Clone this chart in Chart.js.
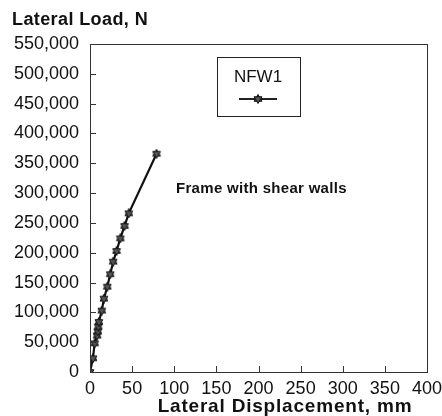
<!DOCTYPE html>
<html>
<head>
<meta charset="utf-8">
<script src="https://cdn.jsdelivr.net/npm/chart.js@4"></script>
<style>
  html, body { margin: 0; padding: 0; background: #fff; }
  #wrap { width: 442px; height: 416px; }
</style>
</head>
<body>
<div id="wrap"><canvas id="loadChart"></canvas></div>
<script>
// displacement (mm) and lateral load (N) for NFW1
const displacement = [0, 3.5, 5.5, 8.5, 9.2, 9.8, 10.5, 14, 16.5, 20.5, 24, 27.5, 31.5, 36, 41, 46, 79];
const load = [0, 23000, 48000, 61000, 68000, 76000, 84000, 103000, 123000, 143000, 164000, 185000, 203000, 224000, 245000, 266000, 366000];
const seriesName = 'NFW1';
const xTicks = [0, 50, 100, 150, 200, 250, 300, 350, 400];
const yTicks = [0, 50000, 100000, 150000, 200000, 250000, 300000, 350000, 400000, 450000, 500000, 550000];
const yTitle = 'Lateral Load, N';
const xTitle = 'Lateral Displacement, mm';
const note = 'Frame with shear walls';

const FONT = 'Arial, "Liberation Sans", sans-serif';

// six pointed star marker
function makeStar(size) {
  const c = document.createElement('canvas');
  c.width = size; c.height = size;
  const g = c.getContext('2d');
  const cx = size / 2, cy = size / 2, r = size / 2 - 0.5;
  g.fillStyle = '#555';
  g.strokeStyle = '#111';
  g.lineWidth = 1;
  for (let k = 0; k < 2; k++) {
    g.beginPath();
    for (let i = 0; i < 3; i++) {
      const a = -Math.PI / 2 + k * Math.PI + i * 2 * Math.PI / 3;
      const px = cx + r * Math.cos(a), py = cy + r * Math.sin(a);
      if (i === 0) g.moveTo(px, py); else g.lineTo(px, py);
    }
    g.closePath();
    g.fill();
    g.stroke();
  }
  return c;
}
const star = makeStar(10);

const extras = {
  id: 'extras',
  afterDraw(chart) {
    const ctx = chart.ctx;
    const a = chart.chartArea;
    const xs = chart.scales.x, ys = chart.scales.y;
    ctx.save();
    // frame
    ctx.strokeStyle = '#333';
    ctx.lineWidth = 1;
    ctx.strokeRect(a.left + 0.5, a.top + 0.5, a.right - a.left, a.bottom - a.top);
    // inward ticks
    ctx.beginPath();
    xTicks.forEach(v => {
      const p = Math.round(xs.getPixelForValue(v)) + 0.5;
      ctx.moveTo(p, a.bottom);
      ctx.lineTo(p, a.bottom - 6);
    });
    yTicks.forEach(v => {
      const p = Math.round(ys.getPixelForValue(v)) + 0.5;
      ctx.moveTo(a.left, p);
      ctx.lineTo(a.left + 6, p);
    });
    ctx.stroke();
    // titles
    ctx.fillStyle = '#111';
    ctx.textBaseline = 'middle';
    ctx.font = 'bold 18px ' + FONT;
    ctx.letterSpacing = '0.4px';
    ctx.textAlign = 'left';
    ctx.fillText(yTitle, 12, 20);
    ctx.font = 'bold 19px ' + FONT;
    ctx.letterSpacing = '0.8px';
    ctx.textAlign = 'center';
    ctx.fillText(xTitle, 285, 407);
    ctx.font = 'bold 15px ' + FONT;
    ctx.letterSpacing = '0.3px';
    ctx.textAlign = 'left';
    ctx.fillText(note, 176, 189);
    ctx.letterSpacing = '0px';
    // legend box
    ctx.strokeStyle = '#222';
    ctx.strokeRect(217.5, 57.5, 83, 59);
    ctx.font = '17px ' + FONT;
    ctx.textAlign = 'center';
    ctx.fillText(seriesName, 258, 77);
    ctx.beginPath();
    ctx.lineWidth = 2;
    ctx.moveTo(239, 99);
    ctx.lineTo(277, 99);
    ctx.stroke();
    ctx.drawImage(star, 253, 94);
    ctx.restore();
  }
};

new Chart(document.getElementById('loadChart'), {
  type: 'line',
  data: {
    datasets: [{
      label: seriesName,
      data: displacement.map((x, i) => ({ x: x, y: load[i] })),
      borderColor: '#111',
      borderWidth: 2.2,
      pointStyle: star,
      pointRadius: 5,
      tension: 0
    }]
  },
  options: {
    responsive: true,
    maintainAspectRatio: false,
    animation: false,
    layout: { padding: { top: 44, right: 15, left: 0, bottom: 0 } },
    plugins: {
      legend: { display: false },
      tooltip: { enabled: false }
    },
    scales: {
      x: {
        type: 'linear',
        min: 0,
        max: 400,
        afterBuildTicks: s => { s.ticks = xTicks.map(v => ({ value: v })); },
        afterFit: s => { s.height = 44; s.paddingLeft = 0; s.paddingRight = 0; },
        grid: { display: false, drawTicks: false },
        border: { display: false },
        ticks: {
          color: '#111',
          padding: 6,
          maxRotation: 0,
          font: { family: FONT, size: 18 }
        }
      },
      y: {
        type: 'linear',
        min: 0,
        max: 550000,
        afterBuildTicks: s => { s.ticks = yTicks.map(v => ({ value: v })); },
        afterFit: s => { s.width = 90; s.paddingTop = 0; s.paddingBottom = 0; },
        grid: { display: false, drawTicks: false },
        border: { display: false },
        ticks: {
          color: '#111',
          padding: 11,
          font: { family: FONT, size: 18 },
          callback: v => v.toLocaleString('en-US')
        }
      }
    }
  },
  plugins: [extras]
});
</script>
</body>
</html>
